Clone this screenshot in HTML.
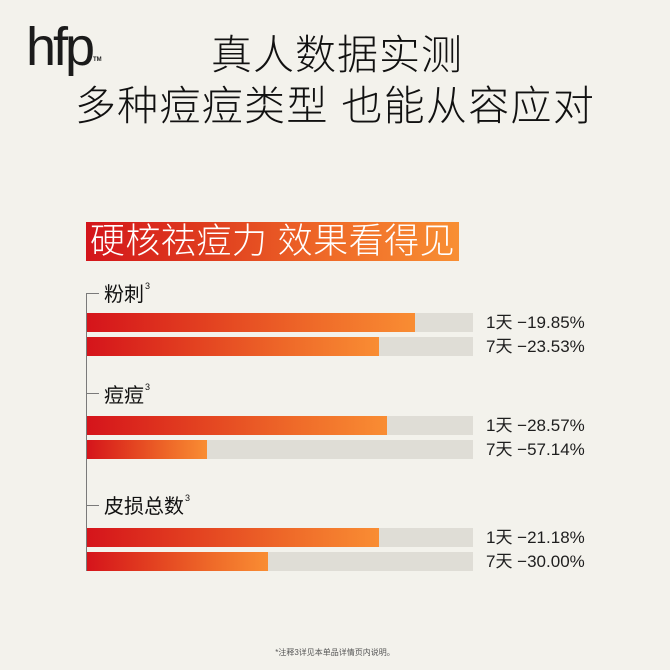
<!DOCTYPE html>
<html>
<head>
<meta charset="utf-8">
<style>
  html,body{margin:0;padding:0;}
  body{width:670px;height:670px;background:#f3f2ec;position:relative;overflow:hidden;
    font-family:"Liberation Sans","Noto Sans CJK SC",sans-serif;color:#1a1a1a;}
  .abs{position:absolute;}
  .logo{left:26px;top:20px;font-size:54px;letter-spacing:-3px;line-height:1;color:#1b1b1b;font-family:"Liberation Sans",sans-serif;}
  .tm{left:93px;top:57px;font-size:6px;font-weight:bold;color:#222;line-height:1;}
  .t1,.t2{left:0;width:670px;text-align:center;font-family:"Liberation Sans","Noto Sans CJK SC",sans-serif;font-weight:300;line-height:1;color:#111;}
  .t1{top:35px;font-size:41px;letter-spacing:1px;padding-left:2px;}
  .t2{top:86px;font-size:41px;letter-spacing:1.3px;}
  .banner{left:86px;top:222px;width:373px;height:39px;
    background:linear-gradient(90deg,#d3151b 0%,#e0401f 35%,#ef6a28 65%,#f88f33 100%);}
  .banner span{position:absolute;left:0;top:0;width:373px;text-align:center;color:#fff;font-size:35px;line-height:39px;font-family:"Liberation Sans","Noto Sans CJK SC",sans-serif;font-weight:300;letter-spacing:0.5px;white-space:nowrap;}
  .vline{left:86px;top:293px;width:1px;height:278px;background:#7a7a7a;}
  .tick{left:86px;width:13px;height:1px;background:#7a7a7a;}
  .cat{left:104px;font-size:20px;line-height:1;color:#111;white-space:nowrap;}
  .cat sup{font-size:9px;vertical-align:top;position:relative;top:-3px;margin-left:1px;}
  .track{left:87px;width:386px;height:19px;background:#dfddd6;}
  .fill{position:absolute;left:0;top:0;height:19px;background:linear-gradient(90deg,#d5141b 0%,#e23f20 35%,#ef6b29 70%,#f98d33 100%);}
  .val{left:486px;font-size:17px;line-height:19px;color:#1e1e1e;white-space:nowrap;}
  .note{left:0;width:670px;top:647px;text-align:center;font-size:8px;color:#555;}
</style>
</head>
<body>
  <div class="abs logo">hfp</div>
  <div class="abs tm">TM</div>
  <div class="abs t1">真人数据实测</div>
  <div class="abs t2">多种痘痘类型 也能从容应对</div>

  <div class="abs banner"><span>硬核祛痘力 效果看得见</span></div>

  <div class="abs vline"></div>

  <div class="abs tick" style="top:293px"></div>
  <div class="abs cat" style="top:285px">粉刺<sup>3</sup></div>
  <div class="abs track" style="top:313px"><div class="fill" style="width:328px"></div></div>
  <div class="abs val" style="top:313px">1天 −19.85%</div>
  <div class="abs track" style="top:337px"><div class="fill" style="width:292px"></div></div>
  <div class="abs val" style="top:337px">7天 −23.53%</div>

  <div class="abs tick" style="top:393px"></div>
  <div class="abs cat" style="top:386px">痘痘<sup>3</sup></div>
  <div class="abs track" style="top:416px"><div class="fill" style="width:300px"></div></div>
  <div class="abs val" style="top:416px">1天 −28.57%</div>
  <div class="abs track" style="top:440px"><div class="fill" style="width:120px"></div></div>
  <div class="abs val" style="top:440px">7天 −57.14%</div>

  <div class="abs tick" style="top:505px"></div>
  <div class="abs cat" style="top:497px">皮损总数<sup>3</sup></div>
  <div class="abs track" style="top:528px"><div class="fill" style="width:292px"></div></div>
  <div class="abs val" style="top:528px">1天 −21.18%</div>
  <div class="abs track" style="top:552px"><div class="fill" style="width:181px"></div></div>
  <div class="abs val" style="top:552px">7天 −30.00%</div>

  <div class="abs note">*注释3详见本单品详情页内说明。</div>
</body>
</html>
